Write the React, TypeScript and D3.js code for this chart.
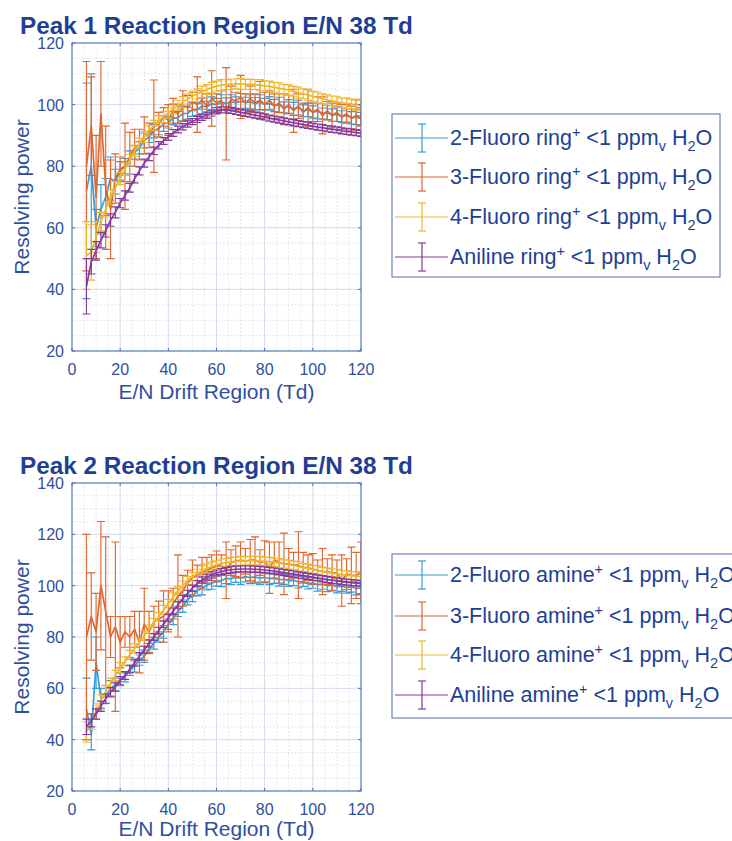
import React from 'react';
import * as d3 from 'd3';

// ---------- data ----------
const X_TD = [6, 8, 10, 12, 14, 16, 18, 20, 22, 24,
  26, 28, 30, 32, 34, 36, 38, 40, 42, 44,
  46, 48, 50, 52, 54, 56, 58, 60, 62, 64,
  66, 68, 70, 72, 74, 76, 78, 80, 82, 84,
  86, 88, 90, 92, 94, 96, 98, 100, 102, 104,
  106, 108, 110, 112, 114, 116, 118, 120];

const X_TICKS = [0, 20, 40, 60, 80, 100, 120];
const Y_TICKS_1 = [20, 40, 60, 80, 100, 120];
const Y_TICKS_2 = [20, 40, 60, 80, 100, 120, 140];

const SERIES_NAMES_1 = ['2-Fluoro ring', '3-Fluoro ring', '4-Fluoro ring', 'Aniline ring'];
const SERIES_NAMES_2 = ['2-Fluoro amine', '3-Fluoro amine', '4-Fluoro amine', 'Aniline amine'];

// Peak 1
const P1_2F = [72, 80, 60, 66, 70, 76, 75, 78.5, 80, 82.5,
  84.5, 86, 88.3, 89.5, 91.4, 92.2, 93.8, 94.2, 95.6, 95.8,
  97.1, 97.2, 98.4, 98.5, 99.5, 99.3, 100.3, 99.9, 100.8, 100.3,
  101.0, 100.5, 101.1, 100.6, 100.9, 100.3, 100.8, 100.1, 100.4, 99.7,
  99.9, 99.1, 99.4, 98.6, 99.0, 98.0, 98.3, 97.6, 97.9, 97.1,
  97.4, 96.6, 96.9, 96.1, 96.5, 95.7, 96.0, 95.4];
const P1_2F_ERR = [35, 30, 6, 8, 6, 7, 4, 3, 2.5, 2.5,
  2.2, 2, 2.4, 1.8, 2.2, 2, 2.5, 1.8, 2.2, 2,
  2.4, 1.9, 2.2, 2, 2.6, 1.8, 2.2, 2.1, 2.4, 1.9,
  2.2, 2, 2.5, 1.8, 2.3, 2, 2.4, 1.9, 2.2, 2,
  2.5, 1.8, 2.2, 2.1, 2.4, 1.9, 2.2, 2, 2.5, 1.8,
  2.3, 2, 2.4, 1.9, 2.2, 2, 2.5, 2.1];

const P1_3F = [80, 93, 70, 97, 73, 66, 76, 79, 80, 83,
  86, 87, 90, 90, 93, 93.5, 96, 95, 98, 97,
  99.5, 99, 101, 100, 101.5, 99.5, 102, 100.5, 101.5, 97,
  102, 101, 102.5, 100.5, 102, 100.5, 101.5, 100, 101.5, 99.5,
  100.5, 98.5, 100, 98, 99.5, 97.5, 99, 97.5, 98.5, 96.5,
  98, 96.5, 97.5, 96, 97, 95.5, 96.5, 96];
const P1_3F_ERR = [34, 16, 20, 17, 20, 16, 8, 4, 14, 8,
  6, 5, 6, 4, 15, 4, 3, 5, 4, 3,
  5, 4, 3, 9, 3, 4, 9, 3, 3, 15,
  4, 3, 7, 3, 4, 3, 6, 4, 3, 4,
  3, 5, 3, 7, 4, 3, 6, 3, 4, 6,
  3, 4, 3, 4, 3, 4, 5, 3];

const P1_4F = [51, 52, 57, 62, 66, 70, 73, 76, 79, 82,
  85, 87.5, 89.5, 91.5, 93.2, 94.8, 96, 97.3, 98.6, 99.8,
  100.8, 101.8, 102.7, 103.5, 104.2, 104.9, 105.5, 106, 106.3, 106.5,
  106.6, 106.7, 106.7, 106.6, 106.6, 106.5, 106.3, 106.1, 105.9, 105.6,
  105.3, 105.0, 104.7, 104.3, 103.9, 103.5, 103.1, 102.7, 102.3, 101.9,
  101.5, 101.2, 100.9, 100.6, 100.4, 100.2, 100.0, 99.8];
const P1_4F_ERR = [11, 9, 5, 3, 2.5, 2.5, 2, 2, 2, 1.8,
  1.8, 1.6, 1.8, 1.6, 1.7, 1.6, 1.8, 1.6, 1.7, 1.6,
  1.8, 1.6, 1.7, 1.6, 1.8, 1.6, 1.7, 1.6, 1.8, 1.6,
  1.7, 1.6, 1.8, 1.6, 1.7, 1.6, 1.8, 1.6, 1.7, 1.6,
  1.8, 1.6, 1.7, 1.6, 1.8, 1.6, 1.7, 1.6, 1.8, 1.6,
  1.7, 1.6, 1.8, 1.6, 1.7, 1.6, 1.8, 1.6];

const P1_AN = [41, 49, 52.5, 56, 59, 62.5, 65, 68, 70.5, 73,
  76, 78.5, 81, 83, 85, 86.8, 88.2, 89.5, 90.8, 91.9,
  92.8, 93.7, 94.5, 95.2, 95.9, 96.6, 97.3, 98.0, 98.3, 98.3,
  98.1, 97.8, 97.5, 97.2, 96.9, 96.6, 96.3, 96.0, 95.6, 95.3,
  95.0, 94.7, 94.4, 94.1, 93.8, 93.5, 93.3, 93.0, 92.7, 92.5,
  92.2, 92.0, 91.8, 91.5, 91.3, 91.1, 90.9, 90.7];
const P1_AN_ERR = [9, 4, 3, 2.5, 2, 2, 1.8, 1.5, 1.5, 1.4,
  1.4, 1.3, 1.3, 1.2, 1.2, 1.2, 1.1, 1.1, 1.1, 1.1,
  1, 1, 1, 1, 1, 1, 1, 1, 1, 1,
  1, 1, 1, 1, 1, 1, 1, 1, 1, 1,
  1, 1, 1, 1, 1, 1, 1, 1, 1, 1,
  1, 1, 1, 1, 1, 1, 1, 1];

// Peak 2
const P2_2F = [52, 42, 70, 56, 57, 60, 61.5, 63.5, 64.5, 67,
  68.5, 71, 72.5, 75.5, 77.5, 80, 82, 85, 87, 90,
  92, 94.5, 96, 98, 99, 100.3, 100.8, 101.9, 102, 102.8,
  102.7, 103.3, 103, 103.5, 103.1, 103.4, 102.9, 103.2, 102.7, 102.9,
  102.3, 102.5, 101.9, 102.1, 101.5, 101.6, 100.9, 101.0, 100.4, 100.6,
  100.0, 100.2, 99.6, 99.8, 99.3, 99.5, 98.9, 99.0];
const P2_2F_ERR = [12, 6, 10, 4, 3, 3, 2.5, 2.5, 2, 2,
  2.2, 2, 2.4, 2, 2.2, 2, 2.5, 2, 2.2, 2,
  2.4, 2, 2.2, 2, 2.6, 2, 2.2, 2.1, 2.4, 2,
  2.2, 2, 2.5, 2, 2.3, 2, 2.4, 2, 2.2, 2,
  2.5, 2, 2.2, 2.1, 2.4, 2, 2.2, 2, 2.5, 2,
  2.3, 2, 2.4, 2, 2.2, 2, 2.5, 2.1];

const P2_3F = [80, 88, 82, 100, 90, 80, 84, 78, 82, 80,
  83, 78, 85, 82, 86, 87, 88, 90, 93, 96,
  98, 101, 103, 104, 105, 106, 107, 107.5, 108, 106,
  109, 109.5, 110, 109.5, 110, 110, 109, 109.5, 107, 110,
  109, 108.5, 108.5, 108, 108, 107, 107, 106.5, 106, 105.5,
  105.5, 105, 105, 102, 104.5, 104, 104, 105];
const P2_3F_ERR = [40, 17, 15, 25, 29, 8, 33, 10, 6, 8,
  7, 12, 14, 8, 6, 7, 10, 8, 6, 16,
  6, 5, 7, 4, 6, 5, 5, 6, 4, 11,
  5, 6, 7, 5, 8, 9, 5, 8, 10, 7,
  8, 12, 6, 5, 13, 6, 5, 6, 4, 9,
  5, 7, 5, 10, 6, 11, 9, 12];

const P2_4F = [43, 47, 51, 55, 59, 62, 65, 68, 70.5, 73,
  75.5, 78, 80.5, 83, 85.5, 88, 90.5, 93, 95.5, 98,
  100, 102, 103.5, 104.8, 105.9, 106.8, 107.5, 108.1, 108.6, 109,
  109.3, 109.5, 109.6, 109.7, 109.7, 109.7, 109.6, 109.5, 109.3, 109.1,
  108.8, 108.5, 108.2, 107.9, 107.5, 107.1, 106.7, 106.3, 105.9, 105.5,
  105.2, 104.9, 104.6, 104.3, 104.1, 103.9, 103.7, 103.5];
const P2_4F_ERR = [4, 3, 3, 2.5, 2.2, 2, 2, 2, 1.8, 1.8,
  1.8, 1.6, 1.8, 1.6, 1.7, 1.6, 1.8, 1.6, 1.7, 1.6,
  1.8, 1.6, 1.7, 1.6, 1.8, 1.6, 1.7, 1.6, 1.8, 1.6,
  1.7, 1.6, 1.8, 1.6, 1.7, 1.6, 1.8, 1.6, 1.7, 1.6,
  1.8, 1.6, 1.7, 1.6, 1.8, 1.6, 1.7, 1.6, 1.8, 1.6,
  1.7, 1.6, 1.8, 1.6, 1.7, 1.6, 1.8, 1.6];

const P2_AN = [45, 47.5, 50, 53, 56, 58.5, 60.5, 63, 65, 67.5,
  70, 72.5, 75, 77.5, 80, 82.5, 85, 87.5, 90, 92.5,
  95, 97, 99, 100.8, 102.2, 103.3, 104.2, 104.9, 105.5, 105.9,
  106.2, 106.4, 106.5, 106.5, 106.5, 106.4, 106.3, 106.1, 105.9, 105.7,
  105.4, 105.1, 104.8, 104.5, 104.2, 103.9, 103.6, 103.3, 103.0, 102.7,
  102.4, 102.1, 101.9, 101.6, 101.4, 101.2, 101.0, 100.8];
const P2_AN_ERR = [3, 2.5, 2, 2, 1.8, 1.8, 1.6, 1.6, 1.5, 1.5,
  1.4, 1.4, 1.4, 1.4, 1.3, 1.3, 1.3, 1.3, 1.3, 1.3,
  1.2, 1.2, 1.2, 1.2, 1.2, 1.2, 1.2, 1.2, 1.2, 1.2,
  1.2, 1.2, 1.2, 1.2, 1.2, 1.2, 1.2, 1.2, 1.2, 1.2,
  1.2, 1.2, 1.2, 1.2, 1.2, 1.2, 1.2, 1.2, 1.2, 1.2,
  1.2, 1.2, 1.2, 1.2, 1.2, 1.2, 1.2, 1.2];

// ---------- styles ----------
const COLORS = ['#3a9ad6', '#e0672e', '#efb62c', '#87399c'];
const FONT = "'Liberation Sans', Arial, Helvetica, sans-serif";
const TITLE_COLOR = '#1d3f95';
const TEXT_COLOR = '#2e4fa0';
const AXIS_COLOR = '#4f6db3';
const GRID_MAJOR = '#d3dbee';
const GRID_MINOR = '#c9d1e4';

type Series = { values: number[]; errors: number[]; color: string };

type PanelProps = {
  id: string;
  top: number;
  bottom: number;
  yTicks: number[];
  title: string;
  series: Series[];
  xLabelOffset: number;
};

const LEFT = 72;
const RIGHT = 361;

function Panel({ id, top, bottom, yTicks, title, series, xLabelOffset }: PanelProps) {
  const x = d3.scaleLinear().domain([0, 120]).range([LEFT, RIGHT]);
  const yMin = yTicks[0];
  const yMax = yTicks[yTicks.length - 1];
  const y = d3.scaleLinear().domain([yMin, yMax]).range([bottom, top]);
  const line = d3.line<number>()
    .x((_, i) => x(X_TD[i]))
    .y((v) => y(v));
  const minorX = d3.range(0, 121, 5).filter((v) => v % 20 !== 0);
  const minorY = d3.range(yMin, yMax + 1, 5).filter((v) => (v - yMin) % 20 !== 0);
  const cap = 4;
  return (
    <g>
      <defs>
        <clipPath id={`clip-${id}`}>
          <rect x={LEFT} y={top} width={RIGHT - LEFT} height={bottom - top} />
        </clipPath>
      </defs>
      {/* minor grid */}
      {minorX.map((v) => (
        <line key={`mx${v}`} x1={x(v)} x2={x(v)} y1={top} y2={bottom}
          stroke={GRID_MINOR} strokeWidth={0.8} strokeDasharray="1.2,2.4" />
      ))}
      {minorY.map((v) => (
        <line key={`my${v}`} x1={LEFT} x2={RIGHT} y1={y(v)} y2={y(v)}
          stroke={GRID_MINOR} strokeWidth={0.8} strokeDasharray="1.2,2.4" />
      ))}
      {/* major grid */}
      {X_TICKS.map((v) => (
        <line key={`gx${v}`} x1={x(v)} x2={x(v)} y1={top} y2={bottom} stroke={GRID_MAJOR} strokeWidth={1} />
      ))}
      {yTicks.map((v) => (
        <line key={`gy${v}`} x1={LEFT} x2={RIGHT} y1={y(v)} y2={y(v)} stroke={GRID_MAJOR} strokeWidth={1} />
      ))}
      {/* data */}
      <g clipPath={`url(#clip-${id})`}>
        {series.map((s, si) => {
          const bars = s.values.map((v, i) => {
            const cx = x(X_TD[i]);
            const y1 = y(v - s.errors[i]);
            const y2 = y(v + s.errors[i]);
            return `M${cx},${y1}V${y2}M${cx - cap},${y1}H${cx + cap}M${cx - cap},${y2}H${cx + cap}`;
          }).join('');
          return (
            <g key={si}>
              <path d={bars} fill="none" stroke={s.color} strokeWidth={1.15} />
              <path d={line(s.values) || ''} fill="none" stroke={s.color} strokeWidth={1.7} strokeLinejoin="round" />
            </g>
          );
        })}
      </g>
      {/* axes box */}
      <rect x={LEFT} y={top} width={RIGHT - LEFT} height={bottom - top} fill="none" stroke={AXIS_COLOR} strokeWidth={1} />
      {X_TICKS.map((v) => (
        <g key={`tx${v}`}>
          <line x1={x(v)} x2={x(v)} y1={bottom} y2={bottom - 3} stroke={AXIS_COLOR} />
          <line x1={x(v)} x2={x(v)} y1={top} y2={top + 3} stroke={AXIS_COLOR} />
          <text x={x(v)} y={bottom + 24} textAnchor="middle" fontSize={16} fill={TEXT_COLOR} fontFamily={FONT}>{v}</text>
        </g>
      ))}
      {yTicks.map((v) => (
        <g key={`ty${v}`}>
          <line x1={LEFT} x2={LEFT + 3} y1={y(v)} y2={y(v)} stroke={AXIS_COLOR} />
          <line x1={RIGHT} x2={RIGHT - 3} y1={y(v)} y2={y(v)} stroke={AXIS_COLOR} />
          <text x={LEFT - 8} y={y(v) + 6} textAnchor="end" fontSize={16} fill={TEXT_COLOR} fontFamily={FONT}>{v}</text>
        </g>
      ))}
      <text x={(LEFT + RIGHT) / 2} y={bottom + xLabelOffset} textAnchor="middle" fontSize={21} fill={TEXT_COLOR} fontFamily={FONT}>E/N Drift Region (Td)</text>
      <text transform={`translate(29,${(top + bottom) / 2}) rotate(-90)`} textAnchor="middle" fontSize={21} fill={TEXT_COLOR} fontFamily={FONT}>Resolving power</text>
      <text x={20} y={top - 9} fontSize={24.3} fontWeight="bold" fill={TITLE_COLOR} fontFamily={FONT}>{title}</text>
    </g>
  );
}

type LegendProps = { x: number; y: number; w: number; h: number; rowYs: number[]; names: string[] };

function Legend({ x, y, w, h, rowYs, names }: LegendProps) {
  const fs = 21.5;
  const sfs = 14.5;
  return (
    <g>
      <rect x={x} y={y} width={w} height={h} fill="#fff" stroke={AXIS_COLOR} strokeWidth={1} />
      {names.map((n, i) => {
        const cy = rowYs[i];
        const c = COLORS[i];
        return (
          <g key={n}>
            <line x1={x + 3} x2={x + 56} y1={cy} y2={cy} stroke={c} strokeWidth={1.2} />
            <line x1={x + 30} x2={x + 30} y1={cy - 14} y2={cy + 14} stroke={c} strokeWidth={1.2} />
            <line x1={x + 26} x2={x + 34} y1={cy - 14} y2={cy - 14} stroke={c} strokeWidth={1.2} />
            <line x1={x + 26} x2={x + 34} y1={cy + 14} y2={cy + 14} stroke={c} strokeWidth={1.2} />
            <text x={x + 58} y={cy + 7} fontSize={fs} fill={TITLE_COLOR} fontFamily={FONT} style={{ whiteSpace: 'pre' }}>
              <tspan>{n}</tspan>
              <tspan dy={-8} fontSize={sfs}>+</tspan>
              <tspan dy={8}>{' <1 ppm'}</tspan>
              <tspan dy={6} fontSize={sfs}>v</tspan>
              <tspan dy={-6}>{' H'}</tspan>
              <tspan dy={6} fontSize={sfs}>2</tspan>
              <tspan dy={-6}>O</tspan>
            </text>
          </g>
        );
      })}
    </g>
  );
}

export default function App() {
  const s1: Series[] = [
    { values: P1_2F, errors: P1_2F_ERR, color: COLORS[0] },
    { values: P1_3F, errors: P1_3F_ERR, color: COLORS[1] },
    { values: P1_4F, errors: P1_4F_ERR, color: COLORS[2] },
    { values: P1_AN, errors: P1_AN_ERR, color: COLORS[3] },
  ];
  const s2: Series[] = [
    { values: P2_2F, errors: P2_2F_ERR, color: COLORS[0] },
    { values: P2_3F, errors: P2_3F_ERR, color: COLORS[1] },
    { values: P2_4F, errors: P2_4F_ERR, color: COLORS[2] },
    { values: P2_AN, errors: P2_AN_ERR, color: COLORS[3] },
  ];
  return (
    <svg width={732} height={841} style={{ position: 'absolute', left: 0, top: 0, background: '#fff' }}>
      <rect x={0} y={0} width={732} height={841} fill="#fff" />
      <Panel id="p1" top={43} bottom={351} yTicks={Y_TICKS_1} title="Peak 1 Reaction Region E/N 38 Td" series={s1} xLabelOffset={48} />
      <Panel id="p2" top={483} bottom={791} yTicks={Y_TICKS_2} title="Peak 2 Reaction Region E/N 38 Td" series={s2} xLabelOffset={45} />
      <Legend x={392} y={114} w={328} h={163} rowYs={[138, 177, 217, 257]} names={SERIES_NAMES_1} />
      <Legend x={392} y={554} w={360} h={164} rowYs={[575, 616, 655, 695]} names={SERIES_NAMES_2} />
    </svg>
  );
}
